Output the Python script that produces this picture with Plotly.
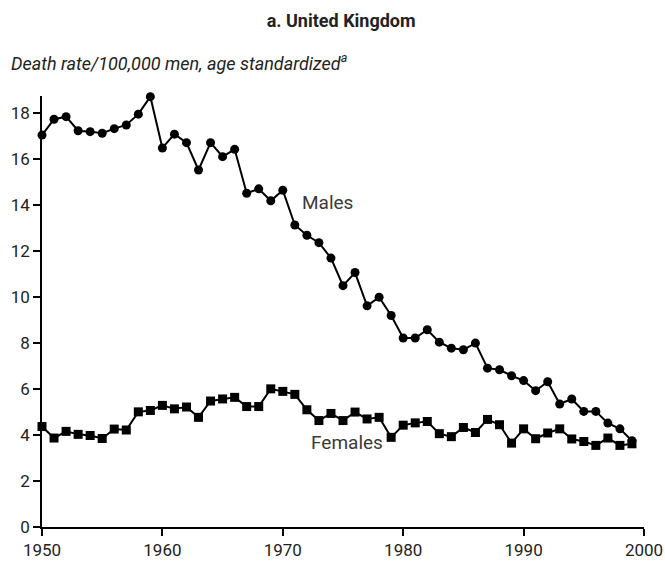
import plotly.graph_objects as go

years = list(range(1950, 2000))

males = [17.05, 17.74, 17.85, 17.24, 17.2, 17.13, 17.33, 17.49, 17.96, 18.72,
         16.49, 17.09, 16.72, 15.53, 16.72, 16.11, 16.43, 14.52, 14.71, 14.19,
         14.65, 13.14, 12.69, 12.37, 11.7, 10.5, 11.07, 9.62, 10.0, 9.2,
         8.22, 8.22, 8.58, 8.04, 7.78, 7.71, 8.0, 6.91, 6.84, 6.58,
         6.37, 5.93, 6.32, 5.35, 5.57, 5.03, 5.03, 4.52, 4.27, 3.75]

females = [4.37, 3.87, 4.16, 4.03, 3.98, 3.85, 4.26, 4.22, 5.01, 5.07,
           5.29, 5.14, 5.22, 4.77, 5.48, 5.57, 5.64, 5.24, 5.24, 6.01,
           5.9, 5.77, 5.1, 4.63, 4.94, 4.63, 5.0, 4.7, 4.77, 3.9,
           4.43, 4.53, 4.59, 4.06, 3.93, 4.33, 4.11, 4.68, 4.45, 3.65,
           4.27, 3.84, 4.09, 4.27, 3.83, 3.72, 3.55, 3.87, 3.55, 3.62]

x_ticks = [1950, 1960, 1970, 1980, 1990, 2000]
y_ticks = [0, 2, 4, 6, 8, 10, 12, 14, 16, 18]

font = "Roboto, Liberation Sans Narrow, sans-serif"

fig = go.Figure()
fig.add_trace(go.Scatter(x=years, y=males, mode="lines+markers",
                         line=dict(color="black", width=2),
                         marker=dict(symbol="circle", size=9, color="black"),
                         cliponaxis=False, showlegend=False))
fig.add_trace(go.Scatter(x=years, y=females, mode="lines+markers",
                         line=dict(color="black", width=2),
                         marker=dict(symbol="square", size=9, color="black"),
                         cliponaxis=False, showlegend=False))

fig.add_annotation(x=1971.45, y=14.1, text="Males", showarrow=False,
                   xanchor="left", yanchor="middle",
                   font=dict(family=font, size=19, color="#3a3a3a"))
fig.add_annotation(x=1972.2, y=3.67, text="Females", showarrow=False,
                   xanchor="left", yanchor="middle",
                   font=dict(family=font, size=19, color="#3a3a3a"))

# subtitle above the plot
fig.add_annotation(xref="paper", yref="paper", x=-0.055, y=1.079,
                   text="<i>Death rate/100,000 men, age standardized<sup>a</sup></i>",
                   showarrow=False, xanchor="left", yanchor="middle",
                   font=dict(family=font, size=18, color="#222222"))

fig.update_layout(
    width=665, height=563,
    paper_bgcolor="white", plot_bgcolor="white",
    margin=dict(l=41.5, r=21, t=96, b=36, autoexpand=False),
    title=dict(text="<b>a. United Kingdom</b>", x=0.513, xanchor="center",
               y=0.964, yanchor="middle",
               font=dict(family=font, size=18, color="#222222")),
    font=dict(family=font, size=17, color="#222222"),
)
fig.update_xaxes(range=[1950, 2000], tickvals=x_ticks, ticks="outside",
                 ticklen=7, tickwidth=1.5, tickcolor="black",
                 ticklabeloverflow="allow", automargin=False,
                 showline=True, linecolor="black", linewidth=1.5,
                 showgrid=False, zeroline=False, fixedrange=True)
fig.update_yaxes(range=[0, 18.75], tickvals=y_ticks, ticks="outside",
                 ticklen=7, tickwidth=1.5, tickcolor="black",
                 ticklabeloverflow="allow", automargin=False,
                 showline=True, linecolor="black", linewidth=1.5,
                 showgrid=False, zeroline=False, fixedrange=True)

fig.write_html("out.html", config={"displayModeBar": False},
               post_script="document.body.style.margin='0';")
